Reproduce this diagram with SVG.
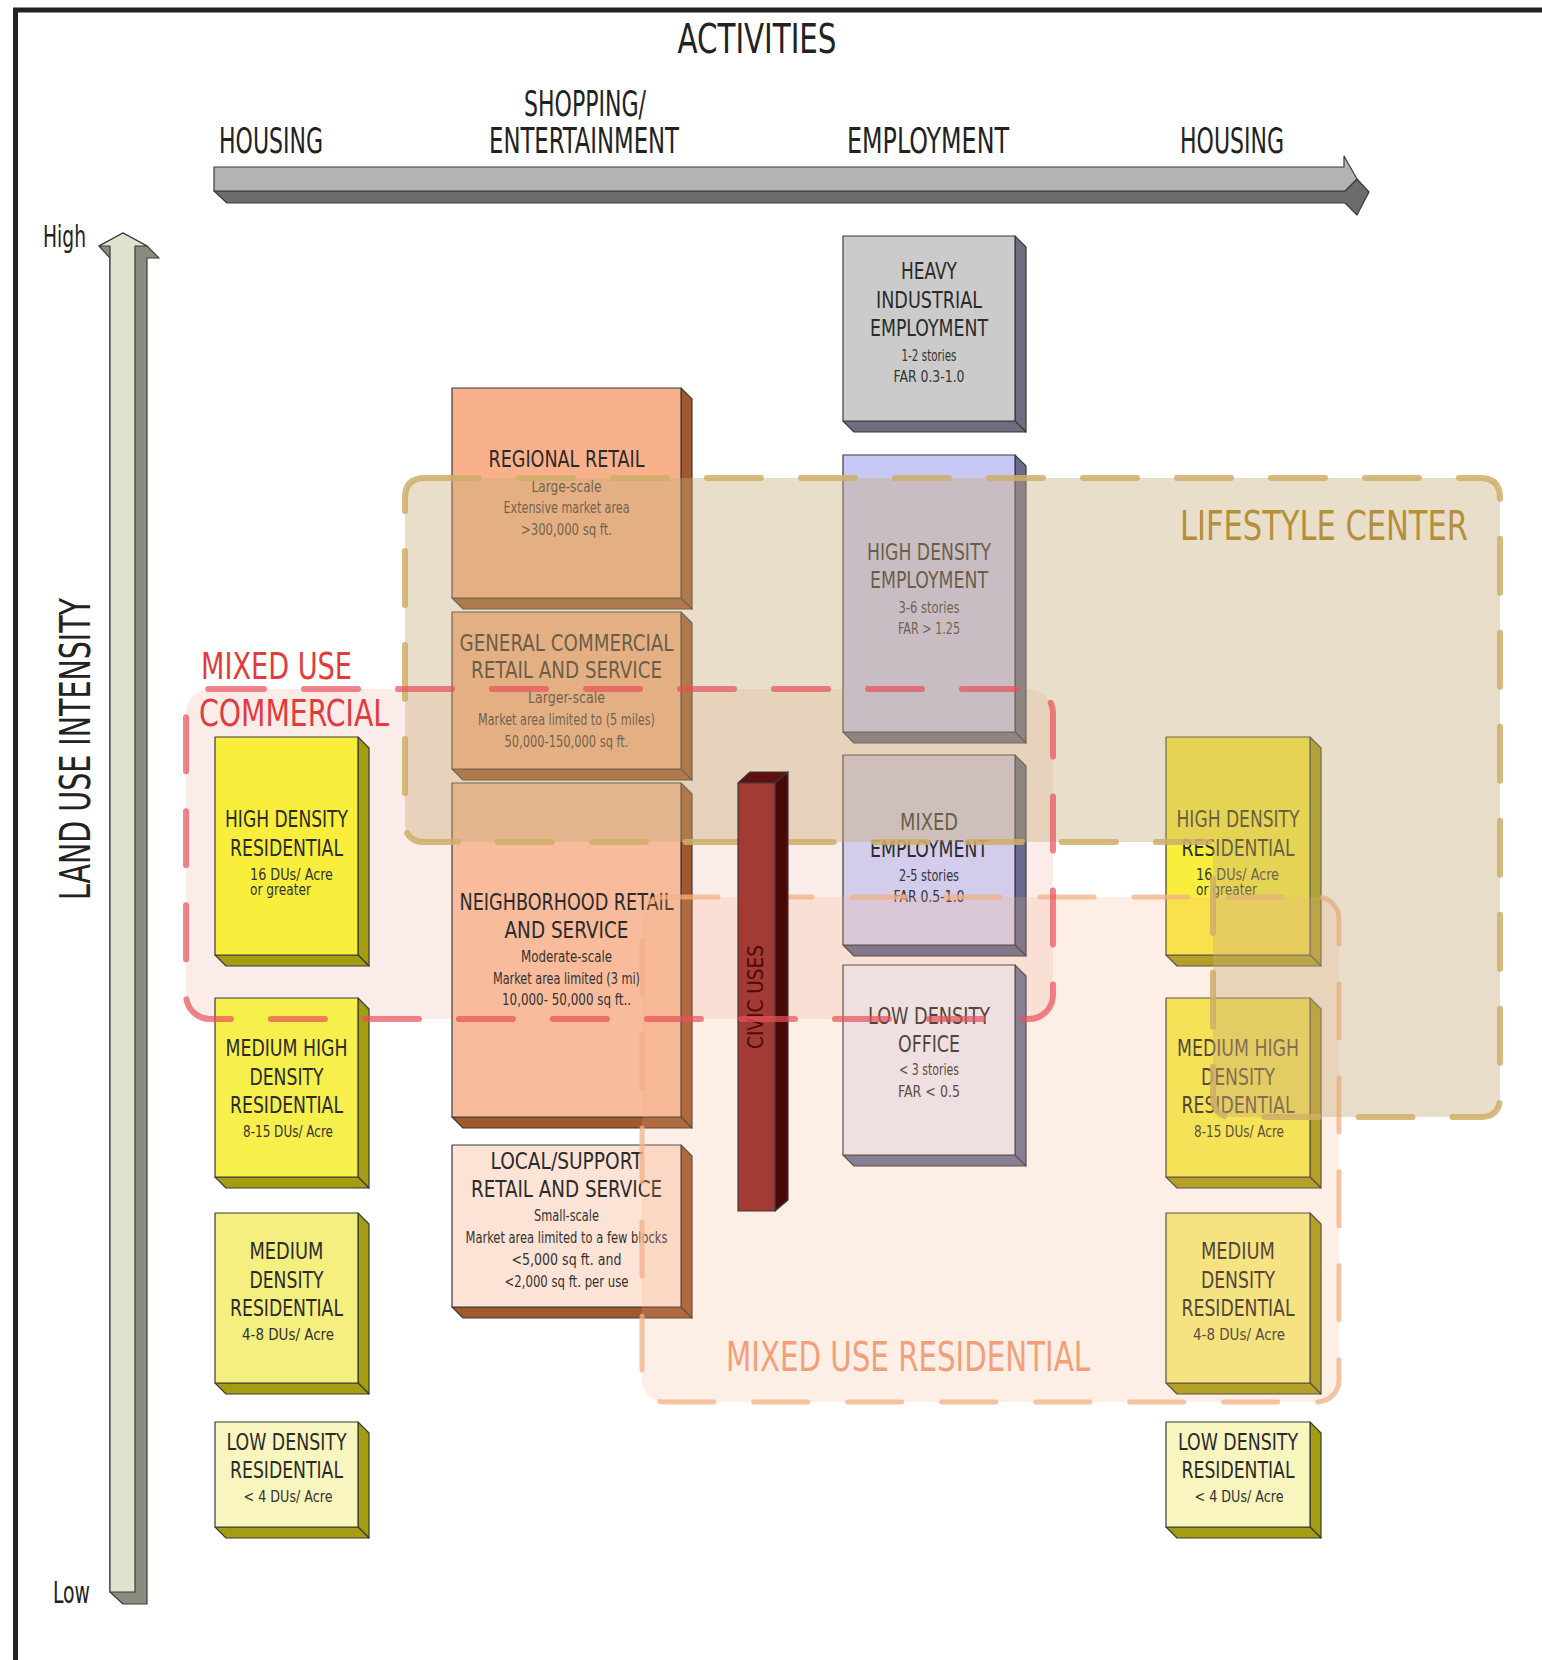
<svg xmlns="http://www.w3.org/2000/svg" width="1542" height="1660" viewBox="0 0 1542 1660">
<style>
text{font-family:"Liberation Sans Narrow","DejaVu Sans Condensed","Liberation Sans",sans-serif;fill:#2b2b2b;text-anchor:middle}
.t{font-size:23px}
.s{font-size:15px;fill:#333}
.st{text-anchor:start}
.h{font-size:35px;fill:#222}
.bx{stroke:#3a3a3a;stroke-width:1.2;stroke-linejoin:round}
.yf{fill:#f9ee3c}.ys{fill:#a39d0f}
.of{fill:#f9b18c}.os{fill:#a0582f}
.gs{fill:#6e6e80}
</style>
<rect width="1542" height="1660" fill="#ffffff"/>
<g id="frame" stroke="#222" stroke-width="5" fill="none">
<line x1="13" y1="10" x2="1542" y2="10"/>
<line x1="15.5" y1="8" x2="15.5" y2="1660"/>
</g>

<!-- mixed use commercial fill (under boxes) -->
<rect id="muc-fill" x="186" y="689" width="867" height="330" rx="24" fill="#f0a090" fill-opacity="0.2"/>

<g id="axes">
<g id="axis-activities" class="bx" stroke="#444">
<polygon points="214,191 1345,191 1357,179 1369,192 1357,215 1345,203 227,203" fill="#6c6c6c"/>
<polygon points="214,167 1344,167 1344,156 1357,179 1345,191 214,191" fill="#b3b3b3"/>
</g>
<g id="axis-intensity" class="bx" stroke="#555">
<polygon points="123,233 147,246 159,258 147,258 147,1604 123,1604 110,1592 110,258 99,246" fill="#8a8c7e"/>
<polygon points="123,233 147,246 135,246 135,1592 110,1592 110,246 99,246" fill="#dfe3cd"/>
</g>
</g>

<g id="headers">
<text x="757" y="53" style="font-size:40px;fill:#222" textLength="159" lengthAdjust="spacingAndGlyphs">ACTIVITIES</text>
<text class="h" x="271" y="153" textLength="104" lengthAdjust="spacingAndGlyphs">HOUSING</text>
<text class="h" x="585" y="116" textLength="122" lengthAdjust="spacingAndGlyphs">SHOPPING/</text>
<text class="h" x="584" y="153" textLength="190" lengthAdjust="spacingAndGlyphs">ENTERTAINMENT</text>
<text class="h" x="928" y="153" textLength="162" lengthAdjust="spacingAndGlyphs">EMPLOYMENT</text>
<text class="h" x="1232" y="153" textLength="104" lengthAdjust="spacingAndGlyphs">HOUSING</text>
<text class="st" x="43" y="247" style="font-size:30px;fill:#222" textLength="43" lengthAdjust="spacingAndGlyphs">High</text>
<text class="st" x="53" y="1603" style="font-size:30px;fill:#222" textLength="37" lengthAdjust="spacingAndGlyphs">Low</text>
<text transform="translate(90,749) rotate(-90)" x="0" y="0" style="font-size:42px;fill:#222" textLength="302" lengthAdjust="spacingAndGlyphs">LAND USE INTENSITY</text>
</g>

<!-- LEFT HOUSING COLUMN -->
<g id="hdr-left">
<polygon class="bx ys" points="358,737 369,748 369,966 358,955"/>
<polygon class="bx ys" points="215,955 358,955 369,966 226,966"/>
<rect class="bx" x="215" y="737" width="143" height="218" fill="#f9ee3c"/>
<text class="t" x="286.5" y="827" textLength="123" lengthAdjust="spacingAndGlyphs">HIGH DENSITY</text>
<text class="t" x="286.5" y="856" textLength="113" lengthAdjust="spacingAndGlyphs">RESIDENTIAL</text>
<text class="s st" x="250" y="880" textLength="83" lengthAdjust="spacingAndGlyphs">16 DUs/ Acre</text>
<text class="s st" x="250" y="895" textLength="61" lengthAdjust="spacingAndGlyphs">or greater</text>
</g>
<g id="mhdr-left">
<polygon class="bx ys" points="358,998 369,1009 369,1188 358,1177"/>
<polygon class="bx ys" points="215,1177 358,1177 369,1188 226,1188"/>
<rect class="bx" x="215" y="998" width="143" height="179" fill="#f7ef4c"/>
<text class="t" x="286.5" y="1056" textLength="122" lengthAdjust="spacingAndGlyphs">MEDIUM HIGH</text>
<text class="t" x="286.5" y="1085" textLength="74" lengthAdjust="spacingAndGlyphs">DENSITY</text>
<text class="t" x="286.5" y="1113" textLength="113" lengthAdjust="spacingAndGlyphs">RESIDENTIAL</text>
<text class="s" x="288" y="1137" textLength="90" lengthAdjust="spacingAndGlyphs">8-15 DUs/ Acre</text>
</g>
<g id="mdr-left">
<polygon class="bx ys" points="358,1213 369,1224 369,1394 358,1383"/>
<polygon class="bx ys" points="215,1383 358,1383 369,1394 226,1394"/>
<rect class="bx" x="215" y="1213" width="143" height="170" fill="#f5ef80"/>
<text class="t" x="286.5" y="1259" textLength="74" lengthAdjust="spacingAndGlyphs">MEDIUM</text>
<text class="t" x="286.5" y="1288" textLength="74" lengthAdjust="spacingAndGlyphs">DENSITY</text>
<text class="t" x="286.5" y="1316" textLength="113" lengthAdjust="spacingAndGlyphs">RESIDENTIAL</text>
<text class="s" x="288" y="1340" textLength="92" lengthAdjust="spacingAndGlyphs">4-8 DUs/ Acre</text>
</g>
<g id="ldr-left">
<polygon class="bx ys" points="358,1422 369,1433 369,1538 358,1527"/>
<polygon class="bx ys" points="215,1527 358,1527 369,1538 226,1538"/>
<rect class="bx" x="215" y="1422" width="143" height="105" fill="#f8f5bf"/>
<text class="t" x="286.5" y="1450" textLength="120" lengthAdjust="spacingAndGlyphs">LOW DENSITY</text>
<text class="t" x="286.5" y="1478" textLength="113" lengthAdjust="spacingAndGlyphs">RESIDENTIAL</text>
<text class="s" x="288" y="1502" textLength="89" lengthAdjust="spacingAndGlyphs">&lt; 4 DUs/ Acre</text>
</g>

<!-- SHOPPING COLUMN -->
<g id="regional-retail">
<polygon class="bx os" points="681,388 692,399 692,609 681,598"/>
<polygon class="bx os" points="452,598 681,598 692,609 463,609"/>
<rect class="bx" x="452" y="388" width="229" height="210" fill="#f9b18c"/>
<text class="t" x="566.5" y="467" textLength="156" lengthAdjust="spacingAndGlyphs">REGIONAL RETAIL</text>
<text class="s" x="566.5" y="492" textLength="70" lengthAdjust="spacingAndGlyphs">Large-scale</text>
<text class="s" x="566.5" y="513" textLength="126" lengthAdjust="spacingAndGlyphs">Extensive market area</text>
<text class="s" x="566.5" y="535" textLength="91" lengthAdjust="spacingAndGlyphs">&gt;300,000 sq ft.</text>
</g>
<g id="general-commercial">
<polygon class="bx os" points="681,612 692,623 692,780 681,769"/>
<polygon class="bx os" points="452,769 681,769 692,780 463,780"/>
<rect class="bx" x="452" y="612" width="229" height="157" fill="#f9b18c"/>
<text class="t" x="566.5" y="651" textLength="214" lengthAdjust="spacingAndGlyphs">GENERAL COMMERCIAL</text>
<text class="t" x="566.5" y="678" textLength="191" lengthAdjust="spacingAndGlyphs">RETAIL AND SERVICE</text>
<text class="s" x="566.5" y="703" textLength="77" lengthAdjust="spacingAndGlyphs">Larger-scale</text>
<text class="s" x="566.5" y="725" textLength="177" lengthAdjust="spacingAndGlyphs">Market area limited to (5 miles)</text>
<text class="s" x="566.5" y="747" textLength="124" lengthAdjust="spacingAndGlyphs">50,000-150,000 sq ft.</text>
</g>
<g id="neighborhood-retail">
<polygon class="bx os" points="681,783 692,794 692,1128 681,1117"/>
<polygon class="bx os" points="452,1117 681,1117 692,1128 463,1128"/>
<rect class="bx" x="452" y="783" width="229" height="334" fill="#f8bb9c"/>
<text class="t" x="566.5" y="910" textLength="214" lengthAdjust="spacingAndGlyphs">NEIGHBORHOOD RETAIL</text>
<text class="t" x="566.5" y="938" textLength="124" lengthAdjust="spacingAndGlyphs">AND SERVICE</text>
<text class="s" x="566.5" y="962" textLength="91" lengthAdjust="spacingAndGlyphs">Moderate-scale</text>
<text class="s" x="566.5" y="984" textLength="147" lengthAdjust="spacingAndGlyphs">Market area limited (3 mi)</text>
<text class="s" x="566.5" y="1005" textLength="129" lengthAdjust="spacingAndGlyphs">10,000- 50,000 sq ft..</text>
</g>
<g id="local-support-retail">
<polygon class="bx os" points="681,1145 692,1156 692,1318 681,1307"/>
<polygon class="bx os" points="452,1307 681,1307 692,1318 463,1318"/>
<rect class="bx" x="452" y="1145" width="229" height="162" fill="#fde3d5"/>
<text class="t" x="566.5" y="1169" textLength="152" lengthAdjust="spacingAndGlyphs">LOCAL/SUPPORT</text>
<text class="t" x="566.5" y="1197" textLength="191" lengthAdjust="spacingAndGlyphs">RETAIL AND SERVICE</text>
<text class="s" x="566.5" y="1221" textLength="65" lengthAdjust="spacingAndGlyphs">Small-scale</text>
<text class="s" x="566.5" y="1243" textLength="202" lengthAdjust="spacingAndGlyphs">Market area limited to a few blocks</text>
<text class="s" x="566.5" y="1265" textLength="110" lengthAdjust="spacingAndGlyphs">&lt;5,000 sq ft. and</text>
<text class="s" x="566.5" y="1287" textLength="124" lengthAdjust="spacingAndGlyphs">&lt;2,000 sq ft. per use</text>
</g>

<!-- EMPLOYMENT COLUMN -->
<g id="heavy-industrial">
<polygon class="bx gs" points="1015,236 1026,247 1026,432 1015,421"/>
<polygon class="bx gs" points="843,421 1015,421 1026,432 854,432"/>
<rect class="bx" x="843" y="236" width="172" height="185" fill="#cbcbcb"/>
<text class="t" x="929" y="279" textLength="56" lengthAdjust="spacingAndGlyphs">HEAVY</text>
<text class="t" x="929" y="308" textLength="106" lengthAdjust="spacingAndGlyphs">INDUSTRIAL</text>
<text class="t" x="929" y="336" textLength="118" lengthAdjust="spacingAndGlyphs">EMPLOYMENT</text>
<text class="s" x="929" y="361" textLength="55" lengthAdjust="spacingAndGlyphs">1-2 stories</text>
<text class="s" x="929" y="382" textLength="71" lengthAdjust="spacingAndGlyphs">FAR 0.3-1.0</text>
</g>
<g id="high-density-employment">
<polygon class="bx" points="1015,455 1026,466 1026,743 1015,732" fill="#6a6a8c"/>
<polygon class="bx" points="843,732 1015,732 1026,743 854,743" fill="#6a6a8c"/>
<rect class="bx" x="843" y="455" width="172" height="277" fill="#c8c8f6"/>
<text class="t" x="929" y="560" textLength="124" lengthAdjust="spacingAndGlyphs">HIGH DENSITY</text>
<text class="t" x="929" y="588" textLength="118" lengthAdjust="spacingAndGlyphs">EMPLOYMENT</text>
<text class="s" x="929" y="613" textLength="61" lengthAdjust="spacingAndGlyphs">3-6 stories</text>
<text class="s" x="929" y="634" textLength="62" lengthAdjust="spacingAndGlyphs">FAR &gt; 1.25</text>
</g>
<g id="mixed-employment">
<polygon class="bx" points="1015,755 1026,766 1026,956 1015,945" fill="#6a6a8c"/>
<polygon class="bx" points="843,945 1015,945 1026,956 854,956" fill="#6a6a8c"/>
<rect class="bx" x="843" y="755" width="172" height="190" fill="#d3ccec"/>
<text class="t" x="929" y="830" textLength="58" lengthAdjust="spacingAndGlyphs">MIXED</text>
<text class="t" x="929" y="857" textLength="118" lengthAdjust="spacingAndGlyphs">EMPLOYMENT</text>
<text class="s" x="929" y="881" textLength="60" lengthAdjust="spacingAndGlyphs">2-5 stories</text>
<text class="s" x="929" y="902" textLength="71" lengthAdjust="spacingAndGlyphs">FAR 0.5-1.0</text>
</g>
<g id="low-density-office">
<polygon class="bx" points="1015,965 1026,976 1026,1166 1015,1155" fill="#6e739a"/>
<polygon class="bx" points="843,1155 1015,1155 1026,1166 854,1166" fill="#6e739a"/>
<rect class="bx" x="843" y="965" width="172" height="190" fill="#eeecf8"/>
<text class="t" x="929" y="1024" textLength="122" lengthAdjust="spacingAndGlyphs">LOW DENSITY</text>
<text class="t" x="929" y="1052" textLength="62" lengthAdjust="spacingAndGlyphs">OFFICE</text>
<text class="s" x="929" y="1075" textLength="60" lengthAdjust="spacingAndGlyphs">&lt; 3 stories</text>
<text class="s" x="929" y="1097" textLength="62" lengthAdjust="spacingAndGlyphs">FAR &lt; 0.5</text>
</g>

<!-- RIGHT HOUSING COLUMN -->
<g id="hdr-right">
<polygon class="bx ys" points="1310,737 1321,748 1321,966 1310,955"/>
<polygon class="bx ys" points="1166,955 1310,955 1321,966 1177,966"/>
<rect class="bx" x="1166" y="737" width="144" height="218" fill="#f9ee3c"/>
<text class="t" x="1238" y="827" textLength="123" lengthAdjust="spacingAndGlyphs">HIGH DENSITY</text>
<text class="t" x="1238" y="856" textLength="113" lengthAdjust="spacingAndGlyphs">RESIDENTIAL</text>
<text class="s st" x="1196" y="880" textLength="83" lengthAdjust="spacingAndGlyphs">16 DUs/ Acre</text>
<text class="s st" x="1196" y="895" textLength="61" lengthAdjust="spacingAndGlyphs">or greater</text>
</g>
<g id="mhdr-right">
<polygon class="bx ys" points="1310,998 1321,1009 1321,1188 1310,1177"/>
<polygon class="bx ys" points="1166,1177 1310,1177 1321,1188 1177,1188"/>
<rect class="bx" x="1166" y="998" width="144" height="179" fill="#f7ef4c"/>
<text class="t" x="1238" y="1056" textLength="122" lengthAdjust="spacingAndGlyphs">MEDIUM HIGH</text>
<text class="t" x="1238" y="1085" textLength="74" lengthAdjust="spacingAndGlyphs">DENSITY</text>
<text class="t" x="1238" y="1113" textLength="113" lengthAdjust="spacingAndGlyphs">RESIDENTIAL</text>
<text class="s" x="1239" y="1137" textLength="90" lengthAdjust="spacingAndGlyphs">8-15 DUs/ Acre</text>
</g>
<g id="mdr-right">
<polygon class="bx ys" points="1310,1213 1321,1224 1321,1394 1310,1383"/>
<polygon class="bx ys" points="1166,1383 1310,1383 1321,1394 1177,1394"/>
<rect class="bx" x="1166" y="1213" width="144" height="170" fill="#f5ef80"/>
<text class="t" x="1238" y="1259" textLength="74" lengthAdjust="spacingAndGlyphs">MEDIUM</text>
<text class="t" x="1238" y="1288" textLength="74" lengthAdjust="spacingAndGlyphs">DENSITY</text>
<text class="t" x="1238" y="1316" textLength="113" lengthAdjust="spacingAndGlyphs">RESIDENTIAL</text>
<text class="s" x="1239" y="1340" textLength="92" lengthAdjust="spacingAndGlyphs">4-8 DUs/ Acre</text>
</g>
<g id="ldr-right">
<polygon class="bx ys" points="1310,1422 1321,1433 1321,1538 1310,1527"/>
<polygon class="bx ys" points="1166,1527 1310,1527 1321,1538 1177,1538"/>
<rect class="bx" x="1166" y="1422" width="144" height="105" fill="#f8f5bf"/>
<text class="t" x="1238" y="1450" textLength="120" lengthAdjust="spacingAndGlyphs">LOW DENSITY</text>
<text class="t" x="1238" y="1478" textLength="113" lengthAdjust="spacingAndGlyphs">RESIDENTIAL</text>
<text class="s" x="1239" y="1502" textLength="89" lengthAdjust="spacingAndGlyphs">&lt; 4 DUs/ Acre</text>
</g>

<!-- OVERLAY ZONES -->
<g id="mixed-use-residential">
<rect x="642" y="897" width="697" height="505" rx="22" fill="#f5b080" fill-opacity="0.2" stroke="#f4b084" stroke-opacity="0.75" stroke-width="5" stroke-dasharray="54 40" stroke-linecap="round"/>
<text x="908" y="1371" style="font-size:41px;fill:#f2a07a" textLength="364" lengthAdjust="spacingAndGlyphs">MIXED USE RESIDENTIAL</text>
</g>
<g id="lifestyle-center">
<path d="M425,478 H1480 Q1500,478 1500,498 V1097 Q1500,1117 1480,1117 H1233 Q1213,1117 1213,1097 V842 H425 Q405,842 405,822 V498 Q405,478 425,478 Z" fill="#c8ac78" fill-opacity="0.4" stroke="#cfae68" stroke-opacity="0.85" stroke-width="6" stroke-dasharray="54 40" stroke-linecap="round"/>
<text x="1324" y="540" style="font-size:40px;fill:#b58f3a" textLength="288" lengthAdjust="spacingAndGlyphs">LIFESTYLE CENTER</text>
</g>

<!-- CIVIC USES -->
<g id="civic-uses">
<polygon class="bx" points="738,783 750,772 788,772 775,783" fill="#5c1010"/>
<polygon class="bx" points="775,783 788,772 788,1200 775,1211" fill="#4a0808"/>
<rect class="bx" x="738" y="783" width="37" height="428" fill="#a33a33"/>
<text transform="translate(763,997) rotate(-90)" x="0" y="0" style="font-size:21px;fill:#4a0c0c" textLength="104" lengthAdjust="spacingAndGlyphs">CIVIC USES</text>
</g>

<g id="mixed-use-commercial">
<rect x="186" y="689" width="867" height="330" rx="24" fill="none" stroke="#e8505a" stroke-opacity="0.7" stroke-width="6" stroke-dasharray="54 40" stroke-linecap="round"/>
<text class="st" x="201" y="679" style="font-size:38px;fill:#e23b3b" textLength="151" lengthAdjust="spacingAndGlyphs">MIXED USE</text>
<text class="st" x="199" y="726" style="font-size:38px;fill:#e23b3b" textLength="190" lengthAdjust="spacingAndGlyphs">COMMERCIAL</text>
</g>
</svg>
